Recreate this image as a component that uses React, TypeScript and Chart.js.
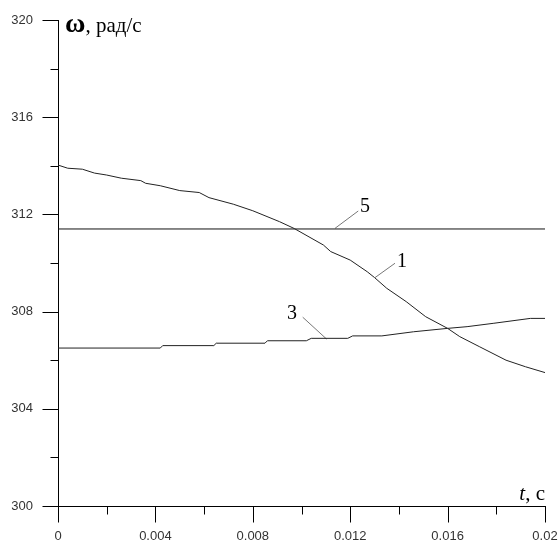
import React, { useEffect, useRef } from "react";
import { Chart, registerables } from "chart.js";
Chart.register(...registerables);

// ---- data ----
const curve1T = [0, 0.0004, 0.001, 0.0015, 0.002, 0.0026, 0.0034, 0.0036, 0.0042, 0.005, 0.0058, 0.0062, 0.0072, 0.008, 0.0091, 0.0097, 0.0109, 0.0112, 0.012, 0.0127, 0.013, 0.0135, 0.0143, 0.0151, 0.016, 0.0165, 0.0173, 0.0184, 0.0192, 0.02];
const curve1V = [314.03, 313.9, 313.86, 313.7, 313.62, 313.49, 313.39, 313.28, 313.18, 312.98, 312.9, 312.69, 312.42, 312.15, 311.7, 311.42, 310.74, 310.47, 310.12, 309.64, 309.4, 308.96, 308.41, 307.79, 307.31, 306.97, 306.56, 306.0, 305.73, 305.49];
const curve3T = [0, 0.0042, 0.0043, 0.0064, 0.0065, 0.0085, 0.0086, 0.0102, 0.0104, 0.0119, 0.0121, 0.0133, 0.0146, 0.016, 0.0168, 0.0179, 0.0194, 0.02];
const curve3V = [306.5, 306.5, 306.6, 306.6, 306.7, 306.7, 306.8, 306.8, 306.9, 306.9, 307.0, 307.0, 307.17, 307.31, 307.38, 307.52, 307.72, 307.72];
const curve5T = [0, 0.02];
const curve5V = [311.4, 311.4];

// leader lines and curve numbers
const leader1T = [0.01302, 0.01384];
const leader1V = [309.4, 309.99];
const leader3T = [0.01005, 0.01103];
const leader3V = [307.77, 306.87];
const leader5T = [0.01138, 0.01233];
const leader5V = [311.43, 312.14];
const curveLabels = ["1", "3", "5"];
const curveLabelT = [0.01392, 0.0094, 0.0124];
const curveLabelV = [310.06, 307.92, 312.3];

const yMajorTicks = [300, 304, 308, 312, 316, 320];
const yMinorTicks = [302, 306, 310, 314, 318];
const xMajorTicks = [0, 0.004, 0.008, 0.012, 0.016, 0.02];
const xTickLabels = ["0", "0.004", "0.008", "0.012", "0.016", "0.02"];
const xMinorTicks = [0.002, 0.006, 0.01, 0.014, 0.018];

const yTitleSymbol = "ω";
const yTitleText = ", рад/с";
const xTitleSymbol = "t";
const xTitleText = ", с";

const pts = (t: number[], v: number[]) => t.map((x, i) => ({ x, y: v[i] }));

export default function App() {
  const ref = useRef<HTMLCanvasElement>(null);
  useEffect(() => {
    const canvas = ref.current!;
    const decor = {
      id: "decor",
      afterDraw(chart: any) {
        const ctx = chart.ctx;
        const xs = chart.scales.x;
        const ys = chart.scales.y;
        const area = chart.chartArea;
        ctx.save();
        ctx.strokeStyle = "#000";
        ctx.lineWidth = 1;
        const yl = Math.round(area.left) + 0.5;
        const xb = Math.round(area.bottom) + 0.5;
        yMajorTicks.forEach((v) => {
          const p = Math.round(ys.getPixelForValue(v)) + 0.5;
          ctx.beginPath(); ctx.moveTo(yl - 16, p); ctx.lineTo(yl, p); ctx.stroke();
        });
        yMinorTicks.forEach((v) => {
          const p = Math.round(ys.getPixelForValue(v)) + 0.5;
          ctx.beginPath(); ctx.moveTo(yl - 8, p); ctx.lineTo(yl, p); ctx.stroke();
        });
        xMajorTicks.forEach((t) => {
          const p = Math.round(xs.getPixelForValue(t)) + 0.5;
          ctx.beginPath(); ctx.moveTo(p, xb); ctx.lineTo(p, xb + 16); ctx.stroke();
        });
        xMinorTicks.forEach((t) => {
          const p = Math.round(xs.getPixelForValue(t)) + 0.5;
          ctx.beginPath(); ctx.moveTo(p, xb); ctx.lineTo(p, xb + 8); ctx.stroke();
        });
        // curve numbers
        ctx.fillStyle = "#000";
        ctx.font = "20px 'Liberation Serif'";
        ctx.textAlign = "left";
        ctx.textBaseline = "middle";
        curveLabels.forEach((s, i) => {
          ctx.fillText(s, xs.getPixelForValue(curveLabelT[i]), ys.getPixelForValue(curveLabelV[i]));
        });
        // axis titles
        ctx.textBaseline = "alphabetic";
        ctx.font = "bold 28px 'Liberation Serif'";
        ctx.fillText(yTitleSymbol, 65, 32);
        const w = ctx.measureText(yTitleSymbol).width;
        ctx.font = "21px 'Liberation Serif'";
        ctx.fillText(yTitleText, 65 + w, 32);
        ctx.font = "italic 21px 'Liberation Serif'";
        const tw = ctx.measureText(xTitleSymbol).width;
        ctx.font = "21px 'Liberation Serif'";
        const rw = ctx.measureText(xTitleText).width;
        const x0 = area.right - tw - rw;
        ctx.font = "italic 21px 'Liberation Serif'";
        ctx.fillText(xTitleSymbol, x0, 500);
        ctx.font = "21px 'Liberation Serif'";
        ctx.fillText(xTitleText, x0 + tw, 500);
        ctx.restore();
      },
    };
    const lineDs = (data: any[], color: string) => ({
      data, borderColor: color, borderWidth: 1, pointRadius: 0, tension: 0, fill: false,
    });
    const chart = new Chart(canvas, {
      type: "line",
      data: {
        datasets: [
          lineDs(pts(curve1T, curve1V), "#222"),
          lineDs(pts(curve3T, curve3V), "#222"),
          lineDs(pts(curve5T, curve5V), "#111"),
          lineDs(pts(leader1T, leader1V), "#777"),
          lineDs(pts(leader3T, leader3V), "#777"),
          lineDs(pts(leader5T, leader5V), "#777"),
        ],
      },
      options: {
        animation: false,
        responsive: false,
        events: [],
        layout: { padding: { left: 0, right: 13, top: 20, bottom: 0 } },
        plugins: { legend: { display: false }, tooltip: { enabled: false } },
        scales: {
          x: {
            type: "linear",
            min: 0,
            max: 0.02,
            afterBuildTicks: (s: any) => { s.ticks = xMajorTicks.map((v) => ({ value: v })); },
            afterFit: (s: any) => { s.height = 39; s.paddingLeft = 0; s.paddingRight = 0; },
            ticks: {
              callback: (v: any) => { const i = xMajorTicks.findIndex((m) => Math.abs(m - v) < 1e-9); return i >= 0 ? xTickLabels[i] : ""; },
              color: "#333",
              font: { family: "'Liberation Sans'", size: 13 },
              padding: 7,
              maxRotation: 0,
              autoSkip: false,
            },
            grid: { drawOnChartArea: false, drawTicks: true, tickLength: 16, tickColor: "rgba(0,0,0,0)" },
            border: { display: true, color: "#000", width: 1 },
          },
          y: {
            type: "linear",
            min: 300,
            max: 320,
            afterBuildTicks: (s: any) => { s.ticks = yMajorTicks.map((v) => ({ value: v })); },
            afterFit: (s: any) => { s.width = 58; s.paddingTop = 0; s.paddingBottom = 0; },
            ticks: {
              callback: (v: any) => String(v),
              color: "#333",
              font: { family: "'Liberation Sans'", size: 13 },
              padding: 9,
              autoSkip: false,
            },
            grid: { drawOnChartArea: false, drawTicks: true, tickLength: 16, tickColor: "rgba(0,0,0,0)" },
            border: { display: true, color: "#000", width: 1 },
          },
        },
      },
      plugins: [decor],
    } as any);
    return () => chart.destroy();
  }, []);
  return (
    <canvas
      ref={ref}
      width={558}
      height={545}
      style={{ position: "fixed", left: 0, top: 0, width: 558, height: 545, background: "#fff" }}
    />
  );
}
